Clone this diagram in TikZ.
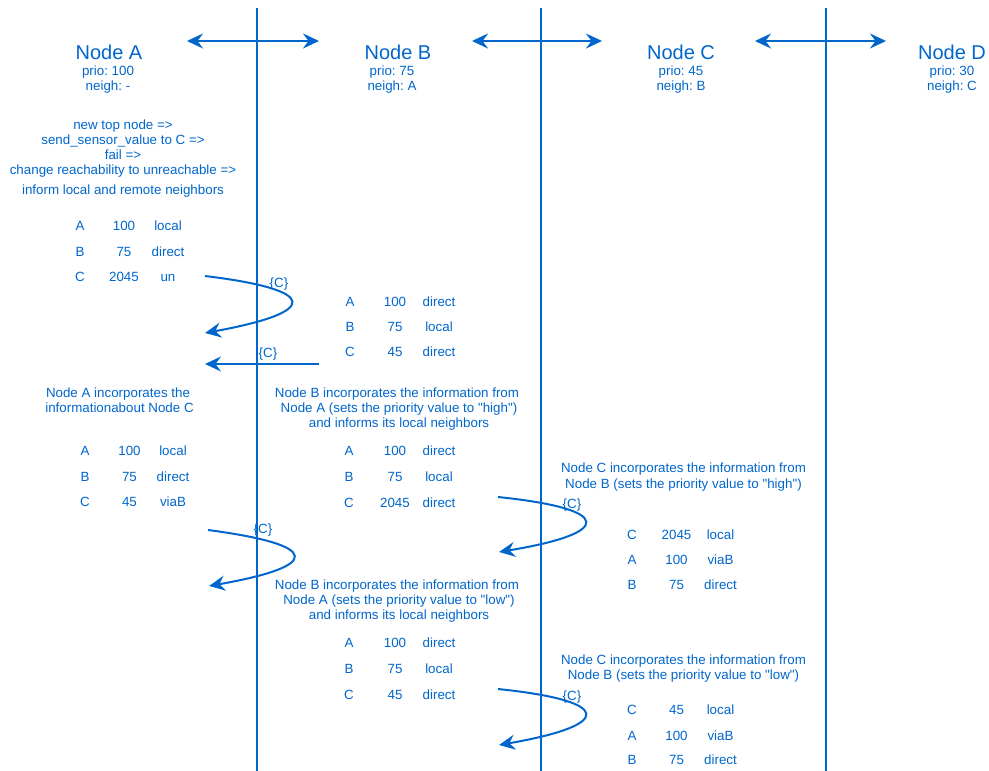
\documentclass[tikz,border=0pt]{standalone}
\usepackage{fontspec}
\setmainfont{Liberation Sans}
\usetikzlibrary{arrows.meta}
\definecolor{seqblue}{HTML}{0066CC}
\frenchspacing

% one row of a routing table: name, y, three column x, three entries
\newcommand\tabrow[8]{%
  \node[lbl] (#1-a) at (#3,#2) {#6};
  \node[lbl] (#1-b) at (#4,#2) {#7};
  \node[lbl] (#1-c) at (#5,#2) {#8};}
% straight double quote
\newcommand\qq{\textquotedbl}

\begin{document}
\begin{tikzpicture}[x=1pt,y=-1pt,
  lbl/.style={text=seqblue, font=\fontsize{13.35}{15}\selectfont, inner sep=0pt,
    text height=9.5pt, text depth=0pt, anchor=center},
  ttl/.style={text=seqblue, font=\fontsize{20}{24}\selectfont, inner sep=0pt,
    text height=14.3pt, text depth=0pt, anchor=center},
  lifeline/.style={draw=seqblue, line width=2pt},
  link/.style={draw=seqblue, line width=2pt,
    {Stealth[length=16pt,width=15pt,inset=5.5pt]}-{Stealth[length=16pt,width=15pt,inset=5.5pt]}},
  msg/.style={draw=seqblue, line width=2pt, -{Stealth[length=16pt,width=15pt,inset=5.5pt]}}]
\useasboundingbox (0,0) rectangle (989,771);

% lifelines between the nodes
\foreach \n/\x in {ab/257, bc/541, cd/826} {
  \coordinate (\n-top) at (\x,8);
  \coordinate (\n-bot) at (\x,771);
  \draw[lifeline] (\n-top) -- (\n-bot);
}

% neighbourhood links
\foreach \n/\l/\r in {ab/187/319, bc/472/602, cd/755/886} {
  \coordinate (\n-l) at (\l,41);
  \coordinate (\n-r) at (\r,41);
  \draw[link] (\n-l) -- (\n-r);
}

% node headers
\node[ttl] (hA) at (109,52) {Node A};
\node[lbl] (pA) at (108,71) {prio: 100};
\node[lbl] (nA) at (108,86) {neigh: -};
\node[ttl] (hB) at (398,52) {Node B};
\node[lbl] (pB) at (392,71) {prio: 75};
\node[lbl] (nB) at (392,86) {neigh: A};
\node[ttl] (hC) at (681,52) {Node C};
\node[lbl] (pC) at (681,71) {prio: 45};
\node[lbl] (nC) at (681,86) {neigh: B};
\node[ttl] (hD) at (952,52) {Node D};
\node[lbl] (pD) at (952,71) {prio: 30};
\node[lbl] (nD) at (952,86) {neigh: C};

% event description at node A
\node[lbl] (ev1) at (123,125) {new top node =>};
\node[lbl] (ev2) at (123,139.5) {send\_sensor\_value to C =>};
\node[lbl] (ev3) at (123,154.5) {fail =>};
\node[lbl] (ev4) at (123,169.5) {change reachability to unreachable =>};
\node[lbl] (ev5) at (123,190) {inform local and remote neighbors};

% table of node A after the failure
\tabrow{a1r1}{226}{80}{124}{168}{A}{100}{local}
\tabrow{a1r2}{251.5}{80}{124}{168}{B}{75}{direct}
\tabrow{a1r3}{276.5}{80}{124}{168}{C}{2045}{un}

% table of node B
\tabrow{b1r1}{301.5}{350}{395}{439}{A}{100}{direct}
\tabrow{b1r2}{326.5}{350}{395}{439}{B}{75}{local}
\tabrow{b1r3}{352}{350}{395}{439}{C}{45}{direct}

% A -> B update (bounces back), B -> A update
\coordinate (m1s) at (205,276);
\coordinate (m1e) at (205,333);
\draw[msg] (m1s) .. controls (320,290) and (320,312) .. (m1e);
\node[lbl] (m1l) at (279,283) {\{C\}};
\coordinate (m2s) at (319,364);
\coordinate (m2e) at (205,364);
\draw[msg] (m2s) -- (m2e);
\node[lbl] (m2l) at (268,353) {\{C\}};

% node A incorporates
\node[lbl] (da1) at (118,392.5) {Node A incorporates the};
\node[lbl] (da2) at (119.5,407.5) {informationabout Node C};
\tabrow{a2r1}{451}{85}{129.5}{173}{A}{100}{local}
\tabrow{a2r2}{476.5}{85}{129.5}{173}{B}{75}{direct}
\tabrow{a2r3}{501.5}{85}{129.5}{173}{C}{45}{viaB}

% node B incorporates (high)
\node[lbl] (db1) at (397,392.5) {Node B incorporates the information from};
\node[lbl] (db2) at (399,407.5) {Node A (sets the priority value to \qq high\qq)};
\node[lbl] (db3) at (399,423) {and informs its local neighbors};
\tabrow{b2r1}{451}{349}{395}{439}{A}{100}{direct}
\tabrow{b2r2}{476.5}{349}{395}{439}{B}{75}{local}
\tabrow{b2r3}{503}{349}{395}{439}{C}{2045}{direct}

% node C incorporates (high)
\node[lbl] (dc1) at (683.5,467.5) {Node C incorporates the information from};
\node[lbl] (dc2) at (683.5,483.5) {Node B (sets the priority value to \qq high\qq)};
\coordinate (m3s) at (498,497);
\coordinate (m3e) at (499,552);
\draw[msg] (m3s) .. controls (614,509) and (614,533) .. (m3e);
\node[lbl] (m3l) at (572,504) {\{C\}};
\tabrow{c1r1}{534.5}{632}{676.5}{720.5}{C}{2045}{local}
\tabrow{c1r2}{559.5}{632}{676.5}{720.5}{A}{100}{viaB}
\tabrow{c1r3}{584.5}{632}{676.5}{720.5}{B}{75}{direct}

% second A -> B update
\coordinate (m4s) at (208,530);
\coordinate (m4e) at (209,586);
\draw[msg] (m4s) .. controls (322,545) and (322,566) .. (m4e);
\node[lbl] (m4l) at (263,529) {\{C\}};

% node B incorporates (low)
\node[lbl] (dd1) at (397,585) {Node B incorporates the information from};
\node[lbl] (dd2) at (399,600) {Node A (sets the priority value to \qq low\qq)};
\node[lbl] (dd3) at (399,614.5) {and informs its local neighbors};
\tabrow{b3r1}{643}{349}{395}{439}{A}{100}{direct}
\tabrow{b3r2}{668.5}{349}{395}{439}{B}{75}{local}
\tabrow{b3r3}{694.5}{349}{395}{439}{C}{45}{direct}

% node C incorporates (low)
\node[lbl] (de1) at (683.5,660) {Node C incorporates the information from};
\node[lbl] (de2) at (683.5,674.5) {Node B (sets the priority value to \qq low\qq)};
\coordinate (m5s) at (498,689);
\coordinate (m5e) at (499,745);
\draw[msg] (m5s) .. controls (614,701) and (614,725) .. (m5e);
\node[lbl] (m5l) at (572,696) {\{C\}};
\tabrow{c2r1}{709.5}{632}{676.5}{720.5}{C}{45}{local}
\tabrow{c2r2}{735.5}{632}{676.5}{720.5}{A}{100}{viaB}
\tabrow{c2r3}{760}{632}{676.5}{720.5}{B}{75}{direct}
\end{tikzpicture}
\end{document}
